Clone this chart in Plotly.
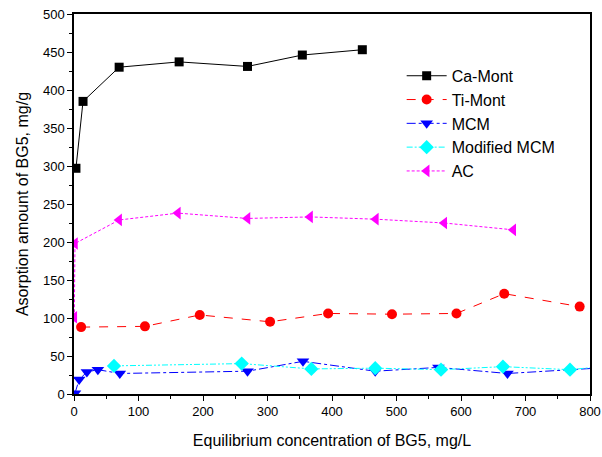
import plotly.graph_objects as go

# Adsorption isotherm data for BG5 on the five sorbents
ca_x = [3, 14, 70, 163, 269, 354, 447]
ca_y = [297, 385, 430, 437, 431, 446, 453]

ti_x = [11, 110, 195, 304, 394, 493, 593, 667, 784]
ti_y = [88, 89, 104, 95, 106, 105, 106, 132, 115]

mcm_x = [1.5, 8, 20, 37, 71, 269, 355, 467, 565, 672, 830]
mcm_y = [1, 19, 29, 32, 27, 30, 43, 30, 35, 27, 35]

mod_x = [62, 260, 368, 467, 569, 665, 769, 830]
mod_y = [37, 40, 33, 34, 32, 36, 32, 37]

ac_x = [0.5, 1.5, 70, 161, 269, 366, 468, 574, 681]
ac_y = [101, 198, 229, 238, 231, 233, 230, 225, 216]

series = [
    ("Ca-Mont", ca_x, ca_y, "black", "solid", "square", 9),
    ("Ti-Mont", ti_x, ti_y, "red", "dash", "circle", 10),
    ("MCM", mcm_x, mcm_y, "blue", "dashdot", "triangle-down", 11),
    ("Modified MCM", mod_x, mod_y, "cyan", "6px,2px,2px,2px,2px,2px", "diamond", 11),
    ("AC", ac_x, ac_y, "magenta", "3px,2px", "triangle-left", 11),
]

fig = go.Figure()
for name, xs, ys, color, dash, symbol, size in series:
    fig.add_trace(go.Scatter(
        x=xs, y=ys, name=name, mode="lines+markers",
        line=dict(color=color, width=1, dash=dash),
        marker=dict(symbol=symbol, size=size, color=color, line=dict(width=0)),
    ))

axis_common = dict(
    showgrid=False, zeroline=False, showline=True, linecolor="black",
    linewidth=1.5, mirror=True, ticks="outside", ticklen=5, tickwidth=1.2,
    tickcolor="black", automargin=False,
    tickfont=dict(family="Liberation Sans, Arial", size=13, color="black"),
)

fig.update_xaxes(
    range=[0, 800], dtick=100,
    minor=dict(dtick=50, ticks="outside", ticklen=3, tickcolor="black", tickwidth=1),
    title=dict(text="Equilibrium concentration of BG5, mg/L",
               font=dict(family="Liberation Sans, Arial", size=16, color="black"), standoff=16),
    **axis_common,
)
fig.update_yaxes(
    range=[0, 500], dtick=50,
    minor=dict(dtick=25, ticks="outside", ticklen=3, tickcolor="black", tickwidth=1),
    title=dict(text="Asorption amount of BG5, mg/g",
               font=dict(family="Liberation Sans, Arial", size=16, color="black"), standoff=10),
    **axis_common,
)

fig.update_layout(
    width=602, height=457,
    margin=dict(l=74, r=12, t=14, b=63),
    plot_bgcolor="white", paper_bgcolor="white",
    legend=dict(x=0.635, y=0.882, xanchor="left", yanchor="top",
                font=dict(family="Liberation Sans, Arial", size=16, color="black"),
                bgcolor="rgba(0,0,0,0)", tracegroupgap=0, itemwidth=40),
)

fig.write_html("out.html")
